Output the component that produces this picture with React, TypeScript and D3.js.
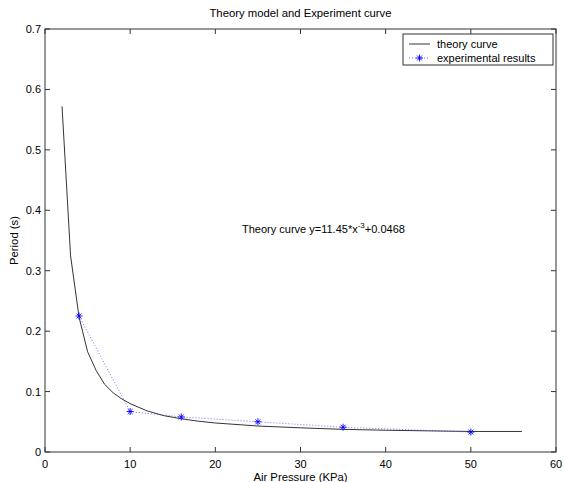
import React from "react";
import * as d3 from "d3";

const W = 564;
const H = 482;

const theoryX = [2, 3, 4, 5, 6, 7, 8, 9, 10, 12, 14, 16, 18, 20, 25, 30, 35, 40, 45, 50, 56];
const theoryY = [0.572, 0.325, 0.223, 0.166, 0.135, 0.112, 0.098, 0.088, 0.08, 0.068, 0.06, 0.055, 0.051, 0.048, 0.043, 0.04, 0.0375, 0.036, 0.035, 0.034, 0.034];

const expX = [4, 10, 16, 25, 35, 50];
const expY = [0.225, 0.067, 0.058, 0.05, 0.041, 0.033];

const xTicks = [0, 10, 20, 30, 40, 50, 60];
const yTicks = [0, 0.1, 0.2, 0.3, 0.4, 0.5, 0.6, 0.7];

const title = "Theory model and Experiment curve";
const xLabel = "Air Pressure (KPa)";
const yLabel = "Period (s)";
const legendLabels = ["theory curve", "experimental results"];

const FONT = "'Liberation Sans', Arial, Helvetica, sans-serif";

export default function App() {
  const left = 45, right = 556, top = 29, bottom = 452;
  const x = d3.scaleLinear().domain([0, 60]).range([left, right]);
  const y = d3.scaleLinear().domain([0, 0.7]).range([bottom, top]);

  const theoryLine = d3
    .line<number>()
    .x((_, i) => x(theoryX[i]))
    .y((d) => y(d))(theoryY) as string;
  const expLine = d3
    .line<number>()
    .x((_, i) => x(expX[i]))
    .y((d) => y(d))(expY) as string;

  const axisColor = "#333";
  const tickLen = 5;
  const star = (cx: number, cy: number, key: string | number, s = 3.5) => (
    <g key={key} stroke="#0000ff" strokeWidth={0.9}>
      <line x1={cx - s} y1={cy} x2={cx + s} y2={cy} />
      <line x1={cx} y1={cy - s} x2={cx} y2={cy + s} />
      <line x1={cx - s * 0.7} y1={cy - s * 0.7} x2={cx + s * 0.7} y2={cy + s * 0.7} />
      <line x1={cx - s * 0.7} y1={cy + s * 0.7} x2={cx + s * 0.7} y2={cy - s * 0.7} />
    </g>
  );

  const legX = 403, legY = 34, legW = 150, legH = 31;

  return (
    <div style={{ position: "absolute", left: 0, top: 0 }}>
      <svg width={W} height={H} style={{ display: "block", background: "#fff" }} fontFamily={FONT}>
        <rect x={0} y={0} width={W} height={H} fill="#fff" />
        <rect x={left} y={top} width={right - left} height={bottom - top} fill="none" stroke={axisColor} strokeWidth={1} />
        {xTicks.map((t) => (
          <g key={"x" + t}>
            <line x1={x(t)} x2={x(t)} y1={bottom} y2={bottom - tickLen} stroke={axisColor} />
            <line x1={x(t)} x2={x(t)} y1={top} y2={top + tickLen} stroke={axisColor} />
            <text x={x(t)} y={468} fontSize={11} textAnchor="middle" fill="#000">
              {t}
            </text>
          </g>
        ))}
        {yTicks.map((t) => (
          <g key={"y" + t}>
            <line x1={left} x2={left + tickLen} y1={y(t)} y2={y(t)} stroke={axisColor} />
            <line x1={right} x2={right - tickLen} y1={y(t)} y2={y(t)} stroke={axisColor} />
            <text x={left - 4} y={y(t) + 4} fontSize={11} textAnchor="end" fill="#000">
              {t === 0 ? "0" : t.toFixed(1)}
            </text>
          </g>
        ))}
        <text x={(left + right) / 2} y={17} fontSize={11.3} textAnchor="middle" fill="#000">
          {title}
        </text>
        <text x={(left + right) / 2} y={481} fontSize={11.3} textAnchor="middle" fill="#000">
          {xLabel}
        </text>
        <text
          transform={`translate(18,${(top + bottom) / 2}) rotate(-90)`}
          fontSize={11.3}
          textAnchor="middle"
          fill="#000"
        >
          {yLabel}
        </text>
        <path d={theoryLine} fill="none" stroke="#000" strokeWidth={0.8} />
        <path d={expLine} fill="none" stroke="#3030ff" strokeWidth={0.7} strokeDasharray="1,2" />
        {expX.map((v, i) => star(x(v), y(expY[i]), i))}
        <text x={242} y={233} fontSize={11} fill="#000">
          Theory curve y=11.45*x
          <tspan dy={-5} fontSize={8}>-3</tspan>
          <tspan dy={5}>+0.0468</tspan>
        </text>
        <rect x={legX} y={legY} width={legW} height={legH} fill="#fff" stroke={axisColor} strokeWidth={1} />
        <line x1={409} x2={430} y1={44} y2={44} stroke="#000" strokeWidth={0.8} />
        <text x={437} y={48} fontSize={11} fill="#000">
          {legendLabels[0]}
        </text>
        <line x1={409} x2={430} y1={58} y2={58} stroke="#3030ff" strokeWidth={0.7} strokeDasharray="1,2" />
        {star(419.5, 58, "leg")}
        <text x={437} y={62} fontSize={11} fill="#000">
          {legendLabels[1]}
        </text>
      </svg>
    </div>
  );
}
